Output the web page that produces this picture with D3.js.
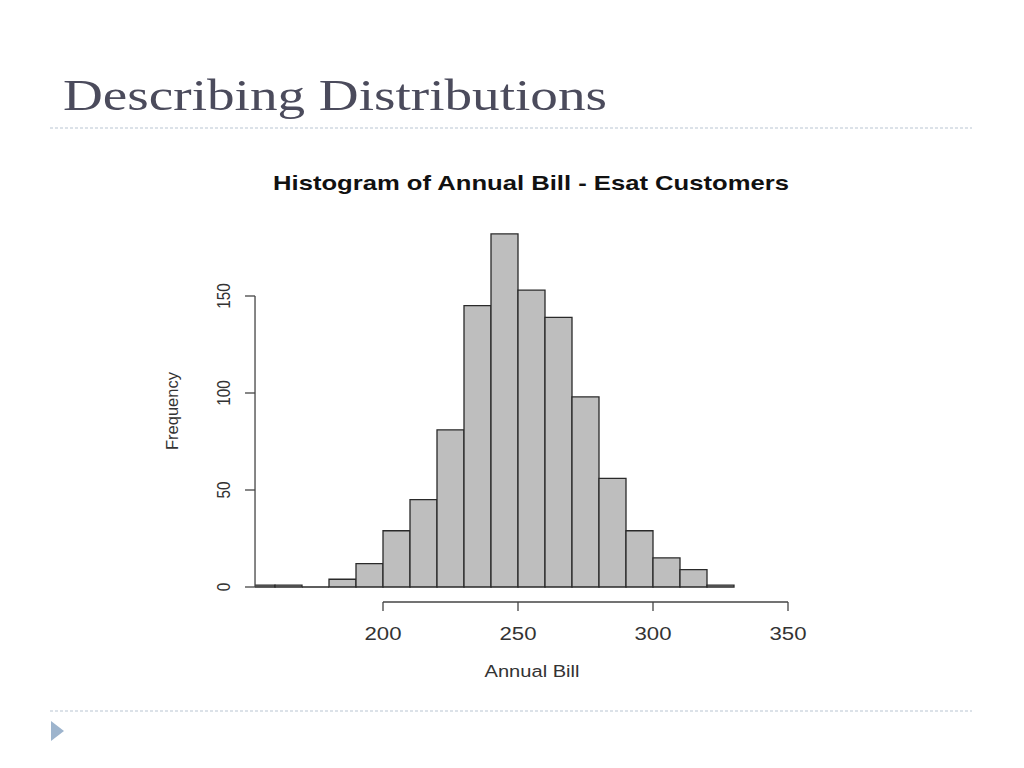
<!DOCTYPE html>
<html>
<head>
<meta charset="utf-8">
<script src="https://cdn.jsdelivr.net/npm/d3@7"></script>
<style>
  body { margin: 0; background: #fff; }
  svg { display: block; }
</style>
</head>
<body>
<svg id="slide" width="1024" height="768"></svg>
<script>
// histogram data
const binStarts = [150, 160, 170, 180, 190, 200, 210, 220, 230, 240, 250, 260, 270, 280, 290, 300, 310, 320];
const binWidth = 10;
const counts = [1, 1, 0, 4, 12, 29, 45, 81, 145, 182, 153, 139, 98, 56, 29, 15, 9, 1];
const xTicks = [200, 250, 300, 350];
const yTicks = [0, 50, 100, 150];

const svg = d3.select("svg#slide");

// slide header
svg.append("text")
  .attr("x", 63)
  .attr("y", 110)
  .attr("font-family", "Liberation Serif, DejaVu Serif, serif")
  .attr("font-size", 44)
  .attr("fill", "#4b4b5c")
  .attr("textLength", 544)
  .attr("lengthAdjust", "spacingAndGlyphs")
  .text("Describing Distributions");

// dashed rules
[128, 711].forEach((y) => {
  svg.append("line")
    .attr("x1", 50).attr("x2", 972)
    .attr("y1", y).attr("y2", y)
    .attr("stroke", "#b9c5d2")
    .attr("stroke-width", 1)
    .attr("stroke-dasharray", "3,2");
});

// bullet triangle
svg.append("path")
  .attr("d", "M51,721 L64,731 L51,741 Z")
  .attr("fill", "#9db4cd");

// chart scales
const xScale = d3.scaleLinear().domain([200, 350]).range([383, 788]);
const yScale = d3.scaleLinear().domain([0, 150]).range([587, 296]);
const plotLeft = xScale(152.6);

// clip bars to the plot region like R does
svg.append("clipPath")
  .attr("id", "plotclip")
  .append("rect")
  .attr("x", plotLeft)
  .attr("y", 200)
  .attr("width", 560)
  .attr("height", 400);

const bins = binStarts.map((x0, i) => ({ x0: x0, x1: x0 + binWidth, n: counts[i] }));

// paths instead of rects so that empty bins still show their outline
svg.append("g")
  .attr("clip-path", "url(#plotclip)")
  .selectAll("path")
  .data(bins)
  .join("path")
  .attr("d", (d) => {
    const a = xScale(d.x0), b = xScale(d.x1);
    const y0 = yScale(0), y1 = yScale(d.n);
    return `M${a},${y0}V${y1}H${b}V${y0}Z`;
  })
  .attr("fill", "#bebebe")
  .attr("stroke", "#2a2a2a")
  .attr("stroke-width", 1.3);

// x axis
const xAxis = svg.append("g").attr("transform", "translate(0,602)");
xAxis.append("line")
  .attr("x1", xScale(xTicks[0])).attr("x2", xScale(xTicks[xTicks.length - 1]))
  .attr("stroke", "#444").attr("stroke-width", 1.3);
xAxis.selectAll(".tick")
  .data(xTicks)
  .join("line")
  .attr("x1", (d) => xScale(d)).attr("x2", (d) => xScale(d))
  .attr("y1", 0).attr("y2", 9)
  .attr("stroke", "#444").attr("stroke-width", 1.3);
xAxis.selectAll("text")
  .data(xTicks)
  .join("text")
  .attr("x", (d) => xScale(d))
  .attr("y", 37.5)
  .attr("text-anchor", "middle")
  .attr("font-family", "Liberation Sans, Arial, sans-serif")
  .attr("font-size", 17.5)
  .attr("fill", "#333")
  .attr("textLength", 37)
  .attr("lengthAdjust", "spacingAndGlyphs")
  .text((d) => d);

// y axis
const yAxis = svg.append("g").attr("transform", `translate(${plotLeft},0)`);
yAxis.append("line")
  .attr("y1", yScale(yTicks[0])).attr("y2", yScale(yTicks[yTicks.length - 1]))
  .attr("stroke", "#444").attr("stroke-width", 1.3);
yAxis.selectAll(".tick")
  .data(yTicks)
  .join("line")
  .attr("y1", (d) => yScale(d)).attr("y2", (d) => yScale(d))
  .attr("x1", 0).attr("x2", -10)
  .attr("stroke", "#444").attr("stroke-width", 1.3);
yAxis.selectAll("text")
  .data(yTicks)
  .join("text")
  .attr("transform", (d) => `translate(-25,${yScale(d)}) rotate(-90)`)
  .attr("text-anchor", "middle")
  .attr("font-family", "Liberation Sans, Arial, sans-serif")
  .attr("font-size", 17.5)
  .attr("fill", "#333")
  .attr("textLength", (d) => String(d).length * 8.5)
  .attr("lengthAdjust", "spacingAndGlyphs")
  .text((d) => d);

// labels
svg.append("text")
  .attr("x", 531)
  .attr("y", 190)
  .attr("text-anchor", "middle")
  .attr("font-family", "Liberation Sans, Arial, sans-serif")
  .attr("font-weight", "bold")
  .attr("font-size", 20.5)
  .attr("fill", "#111")
  .attr("textLength", 516)
  .attr("lengthAdjust", "spacingAndGlyphs")
  .text("Histogram of Annual Bill - Esat Customers");

svg.append("text")
  .attr("x", 532)
  .attr("y", 677)
  .attr("text-anchor", "middle")
  .attr("font-family", "Liberation Sans, Arial, sans-serif")
  .attr("font-size", 16.3)
  .attr("fill", "#333")
  .attr("textLength", 95)
  .attr("lengthAdjust", "spacingAndGlyphs")
  .text("Annual Bill");

svg.append("text")
  .attr("transform", "translate(178,411) rotate(-90)")
  .attr("text-anchor", "middle")
  .attr("font-family", "Liberation Sans, Arial, sans-serif")
  .attr("font-size", 16.5)
  .attr("fill", "#333")
  .attr("textLength", 78)
  .attr("lengthAdjust", "spacingAndGlyphs")
  .text("Frequency");
</script>
</body>
</html>
